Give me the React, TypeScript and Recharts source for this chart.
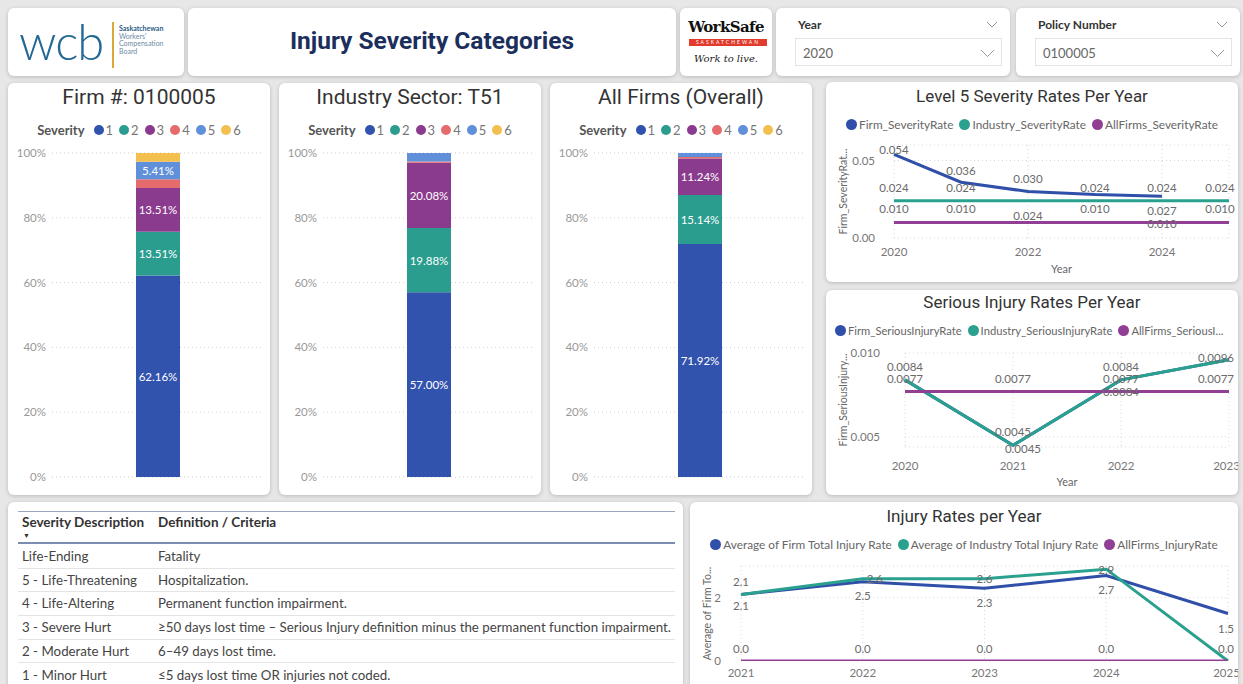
import React from "react";
import { BarChart, Bar, XAxis, YAxis, CartesianGrid, LabelList, LineChart, Line } from "recharts";

const FONT = "Lato, 'Open Sans', sans-serif";
const TITLE_FONT = "Roboto, 'DejaVu Sans', sans-serif";

// --- severity mix (stacked 100% bars) ---
const severityLevels = ["1", "2", "3", "4", "5", "6"];
const severityColors = ["#3152ad", "#2a9d8f", "#8b3b8e", "#e56b6d", "#5f90d9", "#f3c04f"];
const firmShares = [62.16, 13.51, 13.51, 2.7, 5.41, 2.71];
const industryShares = [57.0, 19.88, 20.08, 0.4, 2.64, 0];
const allFirmsShares = [71.92, 15.14, 11.24, 0.5, 1.2, 0];

// --- level 5 severity rates ---
const level5Years = [2020, 2021, 2022, 2023, 2024, 2025];
const firmSeverityRate = [0.054, 0.036, 0.03, 0.028, 0.027, null];
const industrySeverityRate = [0.024, 0.024, 0.024, 0.024, 0.024, 0.024];
const allFirmsSeverityRate = [0.01, 0.01, 0.01, 0.01, 0.01, 0.01];

// --- serious injury rates ---
const seriousYears = [2020, 2021, 2022, 2023];
const firmSeriousRate = [0.0084, 0.0045, 0.0084, 0.0096];
const industrySeriousRate = [0.0084, 0.0045, 0.0084, 0.0096];
const allFirmsSeriousRate = [0.0077, 0.0077, 0.0077, 0.0077];

// --- total injury rates ---
const injuryYears = [2021, 2022, 2023, 2024, 2025];
const firmInjuryRate = [2.1, 2.5, 2.3, 2.7, 1.5];
const industryInjuryRate = [2.1, 2.6, 2.6, 2.9, 0];
const allFirmsInjuryRate = [0, 0, 0, 0, 0];

// --- definitions table ---
const severityDescriptions = [
  "Life-Ending",
  "5 - Life-Threatening",
  "4 - Life-Altering",
  "3 - Severe Hurt",
  "2 - Moderate Hurt",
  "1 - Minor Hurt",
];
const severityCriteria = [
  "Fatality",
  "Hospitalization.",
  "Permanent function impairment.",
  "\u226550 days lost time \u2013 Serious Injury definition minus the permanent function impairment.",
  "6\u201349 days lost time.",
  "\u22645 days lost time OR injuries not coded.",
];

// label offsets from each point (null = label hidden, like power bi does on overlap)
const level5FirmDy = [-5, -12, -13, null, 14, null];
const level5IndustryDy = [-13, -13, 15, -13, -13, -13];
const level5AllDy = [-14, -14, null, -14, 1, -14];
const seriousFirmDy = [-13, -14, -13, -2];
const seriousIndustryDy = [null, 3, 12, null];
const seriousIndustryDx = [0, 10, 0, 0];
const seriousAllDy = [-13, -13, -13, -13];
const injuryFirmDy = [11, 14, 14, 14, 15];
const injuryIndustryDy = [-13, 0, 0, 0, -13];
const injuryIndustryDx = [0, 12, 0, 0, 0];
const injuryAllDy = [-13, -13, -13, -13, null];

const BLUE = "#2f4fa9";
const TEAL = "#2aa08f";
const PURPLE = "#913f95";

function Panel({ x, y, w, h, children }: any) {
  return (
    <div
      style={{
        position: "absolute", left: x, top: y, width: w, height: h,
        background: "#fff", borderRadius: 6, boxShadow: "0 1px 4px rgba(0,0,0,0.2)", overflow: "hidden",
      }}
    >
      {children}
    </div>
  );
}

const segmentLabel = (p: any) => {
  if (p.value == null || p.value < 5) return null;
  return (
    <text x={p.x + p.width / 2} y={p.y + p.height / 2} textAnchor="middle" dominantBaseline="central"
      fill="#fff" fontSize={11.5} fontFamily={FONT}>
      {Number(p.value).toFixed(2)}%
    </text>
  );
};

function SeverityPanel({ x, title, shares }: any) {
  const row: any = { name: title };
  severityLevels.forEach((s, i) => (row["s" + s] = shares[i]));
  return (
    <Panel x={x} y={83} w={262} h={412}>
      <div style={{ position: "absolute", top: 2, left: 0, width: "100%", textAlign: "center", fontFamily: TITLE_FONT, fontSize: 21, color: "#333" }}>
        {title}
      </div>
      <div style={{ position: "absolute", top: 39, left: 0, width: "100%", display: "flex", justifyContent: "center", alignItems: "center", gap: 6, fontFamily: FONT, fontSize: 13, color: "#777" }}>
        <span style={{ fontWeight: 700, color: "#555", marginRight: 3 }}>Severity</span>
        {severityLevels.map((s, i) => (
          <span key={s} style={{ display: "flex", alignItems: "center", gap: 2 }}>
            <span style={{ width: 10, height: 10, borderRadius: "50%", background: severityColors[i], display: "inline-block" }} />
            {s}
          </span>
        ))}
      </div>
      <div style={{ position: "absolute", left: 0, top: 0 }}>
        <BarChart width={262} height={412} data={[row]} margin={{ top: 70, right: 6, bottom: 18, left: 0 }}>
          <CartesianGrid vertical={false} stroke="#cfcfcf" strokeDasharray="1 3" />
          <XAxis dataKey="name" hide />
          <YAxis width={44} domain={[0, 100]} allowDataOverflow ticks={[0, 20, 40, 60, 80, 100]}
            tickFormatter={(v) => `${v}%`} axisLine={false} tickLine={false} tickMargin={0}
            tick={{ fill: "#999", fontSize: 11.5, fontFamily: FONT }} />
          {severityLevels.map((s, i) => (
            <Bar key={s} dataKey={"s" + s} stackId="sev" fill={severityColors[i]} barSize={44} isAnimationActive={false}>
              <LabelList dataKey={"s" + s} content={segmentLabel} />
            </Bar>
          ))}
        </BarChart>
      </div>
    </Panel>
  );
}

function pointLabel(dys: (number | null)[], fmt: (v: number) => string, maxX: number, dxs?: number[]) {
  return (p: any) => {
    const dy = dys[p.index];
    if (dy == null || p.value == null) return null;
    const x = Math.min(p.x + (dxs ? dxs[p.index] : 0), maxX);
    return (
      <text x={x} y={p.y + dy} textAnchor="middle" dominantBaseline="central" fontFamily={FONT} fontSize={11.5} fill="#6a6a6a">
        {fmt(p.value)}
      </text>
    );
  };
}

function Legend({ items, top, justify, padLeft, fontSize }: any) {
  return (
    <div style={{ position: "absolute", top, left: 0, width: "100%", display: "flex", justifyContent: justify, paddingLeft: padLeft || 0, boxSizing: "border-box", gap: 6, fontFamily: FONT, fontSize: fontSize || 11.8, color: "#666", whiteSpace: "nowrap" }}>
      {items.map((it: any) => (
        <span key={it.name} style={{ display: "flex", alignItems: "center", gap: 2 }}>
          <span style={{ width: 11, height: 11, borderRadius: "50%", background: it.color, display: "inline-block" }} />
          {it.name}
        </span>
      ))}
    </div>
  );
}

function RatePanel(props: any) {
  const {
    x, y, w, h, title, titleTop, legendTop, legendItems, legendJustify, legendPad, legendSize,
    years, series, xTicks, yDomain, yTicks, yFmt, labelFmt, margin, yAxisWidth, yTickMargin,
    yLabel, xLabel, xAxisHeight, xTickMargin, chartHeight, maxLabelX,
  } = props;
  const data = years.map((yr: number, i: number) => {
    const d: any = { year: yr };
    series.forEach((s: any, k: number) => (d["v" + k] = s.values[i]));
    return d;
  });
  return (
    <Panel x={x} y={y} w={w} h={h}>
      <div style={{ position: "absolute", top: titleTop, left: 0, width: "100%", textAlign: "center", fontFamily: TITLE_FONT, fontSize: 17, color: "#333" }}>
        {title}
      </div>
      <Legend items={legendItems} top={legendTop} justify={legendJustify} padLeft={legendPad} fontSize={legendSize} />
      <div style={{ position: "absolute", left: 0, top: 0 }}>
        <LineChart width={w} height={chartHeight} data={data} margin={margin}>
          <CartesianGrid stroke="#d6d6d6" strokeDasharray="1 3" />
          <XAxis dataKey="year" type="number" domain={[years[0], years[years.length - 1]]} ticks={xTicks}
            axisLine={false} tickLine={false} height={xAxisHeight} tickMargin={xTickMargin ?? 2}
            tick={{ fill: "#777", fontSize: 11.5, fontFamily: FONT }}
            label={xLabel ? { value: xLabel, position: "insideBottom", offset: 9, fill: "#666", fontSize: 11, fontFamily: FONT } : undefined} />
          <YAxis type="number" domain={yDomain} ticks={yTicks} allowDataOverflow tickFormatter={yFmt}
            axisLine={false} tickLine={false} width={yAxisWidth} tickMargin={yTickMargin}
            tick={{ fill: "#777", fontSize: 11.5, fontFamily: FONT }}
            label={{
              content: (lp: any) => {
                const vb = lp.viewBox || {};
                const cx = (vb.x || 0) + 9;
                const cy = (vb.y || 0) + (vb.height || 0) / 2;
                return (
                  <text x={cx} y={cy} transform={`rotate(-90, ${cx}, ${cy})`} textAnchor="middle" dominantBaseline="central"
                    fontSize={10.5} fill="#666" fontFamily={FONT}>
                    {yLabel}
                  </text>
                );
              },
            }} />
          {series.map((s: any, k: number) => (
            <Line key={s.name} dataKey={"v" + k} stroke={s.color} strokeWidth={3} dot={false} isAnimationActive={false} connectNulls={false}>
              <LabelList dataKey={"v" + k} content={pointLabel(s.dys, labelFmt, maxLabelX, s.dxs)} />
            </Line>
          ))}
        </LineChart>
      </div>
    </Panel>
  );
}

function Chevron({ x, y, w = 10, color = "#888" }: any) {
  return (
    <svg style={{ position: "absolute", left: x, top: y }} width={w + 2} height={w / 2 + 2}>
      <polyline points={`1,1 ${w / 2 + 1},${w / 2 + 1} ${w + 1},1`} fill="none" stroke={color} strokeWidth={1} />
    </svg>
  );
}

function Slicer({ x, w, label, value }: any) {
  return (
    <Panel x={x} y={8} w={w} h={68}>
      <div style={{ position: "absolute", left: 22, top: 9, fontFamily: FONT, fontWeight: 700, fontSize: 12, color: "#333" }}>{label}</div>
      <Chevron x={w - 24} y={13} w={10} color="#999" />
      <div style={{ position: "absolute", left: 19, top: 30, width: w - 27, height: 28, border: "1px solid #e3e3e3", boxSizing: "border-box" }}>
        <div style={{ position: "absolute", left: 7, top: 6, fontFamily: FONT, fontSize: 13, color: "#666" }}>{value}</div>
        <Chevron x={w - 50} y={10} w={13} color="#999" />
      </div>
    </Panel>
  );
}

export default function App() {
  const legendDot = (name: string, color: string) => ({ name, color });
  return (
    <div style={{ position: "relative", width: 1243, height: 684, background: "#e7e7e7", overflow: "hidden" }}>
      <style>{"body{margin:0;}"}</style>

      {/* header */}
      <Panel x={8} y={8} w={176} h={68}>
        <div style={{ position: "absolute", left: 11, top: 5, fontFamily: FONT, fontWeight: 300, fontSize: 49, letterSpacing: -1, color: "#236894", lineHeight: "56px" }}>wcb</div>
        <div style={{ position: "absolute", left: 104, top: 14, width: 2, height: 46, background: "#d8a933" }} />
        <div style={{ position: "absolute", left: 111, top: 17, fontFamily: FONT, fontSize: 7, lineHeight: "7.5px", color: "#6d8aa5" }}>
          <div style={{ fontWeight: 700, color: "#2c5b85" }}>Saskatchewan</div>
          <div>Workers'</div>
          <div>Compensation</div>
          <div>Board</div>
        </div>
      </Panel>
      <Panel x={188} y={8} w={488} h={68}>
        <div style={{ position: "absolute", left: 0, top: 18, width: "100%", textAlign: "center", fontFamily: TITLE_FONT, fontWeight: 700, fontSize: 24.5, color: "#1c2f5c" }}>
          Injury Severity Categories
        </div>
      </Panel>
      <Panel x={680} y={8} w={92} h={68}>
        <div style={{ position: "absolute", left: 0, top: 10, width: "100%", textAlign: "center", fontFamily: "'DejaVu Serif', serif", fontWeight: 700, fontSize: 15, letterSpacing: -0.6, color: "#111" }}>WorkSafe</div>
        <div style={{ position: "absolute", left: 9, top: 31, width: 78, height: 7, background: "#e23b2e", color: "#fff", fontSize: 5, lineHeight: "7px", textAlign: "center", letterSpacing: 2, fontFamily: FONT }}>SASKATCHEWAN</div>
        <div style={{ position: "absolute", left: 0, top: 45, width: "100%", textAlign: "center", fontFamily: "'DejaVu Serif', serif", fontStyle: "italic", fontSize: 10, color: "#222" }}>Work to live.</div>
      </Panel>
      <Slicer x={776} w={234} label="Year" value="2020" />
      <Slicer x={1016} w={224} label="Policy Number" value="0100005" />

      {/* severity mix */}
      <SeverityPanel x={8} title="Firm #: 0100005" shares={firmShares} />
      <SeverityPanel x={279} title="Industry Sector: T51" shares={industryShares} />
      <SeverityPanel x={550} title="All Firms (Overall)" shares={allFirmsShares} />

      {/* level 5 */}
      <RatePanel
        x={826} y={82} w={412} h={200} chartHeight={200}
        title="Level 5 Severity Rates Per Year" titleTop={4} legendTop={35}
        legendItems={[legendDot("Firm_SeverityRate", BLUE), legendDot("Industry_SeverityRate", TEAL), legendDot("AllFirms_SeverityRate", PURPLE)]}
        legendJustify="center"
        years={level5Years}
        series={[
          { name: "firm", color: BLUE, values: firmSeverityRate, dys: level5FirmDy },
          { name: "industry", color: TEAL, values: industrySeverityRate, dys: level5IndustryDy },
          { name: "all", color: PURPLE, values: allFirmsSeverityRate, dys: level5AllDy },
        ]}
        xTicks={[2020, 2022, 2024]} yDomain={[0, 0.06]} yTicks={[0, 0.05]} yFmt={(v: number) => v.toFixed(2)}
        labelFmt={(v: number) => v.toFixed(3)}
        margin={{ top: 63, right: 9, bottom: 0, left: 8 }} yAxisWidth={60} yTickMargin={13}
        yLabel="Firm_SeverityRat..." xLabel="Year" xAxisHeight={44} xTickMargin={4} maxLabelX={394}
      />

      {/* serious injury */}
      <RatePanel
        x={826} y={290} w={412} h={205} chartHeight={205}
        title="Serious Injury Rates Per Year" titleTop={2} legendTop={34}
        legendItems={[legendDot("Firm_SeriousInjuryRate", BLUE), legendDot("Industry_SeriousInjuryRate", TEAL), legendDot("AllFirms_SeriousI...", PURPLE)]}
        legendJustify="flex-start" legendPad={9} legendSize={11.2}
        years={seriousYears}
        series={[
          { name: "firm", color: BLUE, values: firmSeriousRate, dys: seriousFirmDy },
          { name: "industry", color: TEAL, values: industrySeriousRate, dys: seriousIndustryDy, dxs: seriousIndustryDx },
          { name: "all", color: PURPLE, values: allFirmsSeriousRate, dys: seriousAllDy },
        ]}
        xTicks={seriousYears} yDomain={[0.0044, 0.01]} yTicks={[0.005, 0.01]} yFmt={(v: number) => v.toFixed(3)}
        labelFmt={(v: number) => v.toFixed(4)}
        margin={{ top: 63, right: 9, bottom: 0, left: 8 }} yAxisWidth={71} yTickMargin={19}
        yLabel="Firm_SeriousInjury..." xLabel="Year" xAxisHeight={48} xTickMargin={9} maxLabelX={390}
      />

      {/* definitions table */}
      <Panel x={8} y={502} w={675} h={190}>
        <div style={{ position: "absolute", left: 10, top: 9, width: 657, height: 1, background: "#98a6bf" }} />
        <div style={{ position: "absolute", left: 14, top: 12, fontFamily: FONT, fontWeight: 700, fontSize: 13.5, color: "#333" }}>Severity Description</div>
        <div style={{ position: "absolute", left: 150, top: 12, fontFamily: FONT, fontWeight: 700, fontSize: 13.5, color: "#333" }}>Definition / Criteria</div>
        <div style={{ position: "absolute", left: 15, top: 29, fontSize: 7, color: "#333", fontFamily: FONT }}>{"\u25BC"}</div>
        <div style={{ position: "absolute", left: 10, top: 40, width: 657, height: 2, background: "#7b8db0" }} />
        {severityDescriptions.map((d, i) => (
          <div key={d} style={{ position: "absolute", left: 10, top: 43 + i * 23.7, width: 657, height: 23.7, borderBottom: i < 5 ? "1px solid #e4e4e4" : "none", boxSizing: "border-box", fontFamily: FONT, fontSize: 13.3, color: "#444" }}>
            <div style={{ position: "absolute", left: 4, top: 3 }}>{d}</div>
            <div style={{ position: "absolute", left: 140, top: 3, whiteSpace: "nowrap" }}>{severityCriteria[i]}</div>
          </div>
        ))}
      </Panel>

      {/* injury rates */}
      <RatePanel
        x={690} y={502} w={548} h={190} chartHeight={190}
        title="Injury Rates per Year" titleTop={4} legendTop={35}
        legendItems={[legendDot("Average of Firm Total Injury Rate", BLUE), legendDot("Average of Industry Total Injury Rate", TEAL), legendDot("AllFirms_InjuryRate", PURPLE)]}
        legendJustify="center"
        years={injuryYears}
        series={[
          { name: "firm", color: BLUE, values: firmInjuryRate, dys: injuryFirmDy },
          { name: "industry", color: TEAL, values: industryInjuryRate, dys: injuryIndustryDy, dxs: injuryIndustryDx },
          { name: "all", color: PURPLE, values: allFirmsInjuryRate, dys: injuryAllDy },
        ]}
        xTicks={injuryYears} yDomain={[0, 3]} yTicks={[0, 2]} yFmt={(v: number) => String(v)}
        labelFmt={(v: number) => v.toFixed(1)}
        margin={{ top: 64, right: 10, bottom: 0, left: 8 }} yAxisWidth={43} yTickMargin={14}
        yLabel="Average of Firm To..." xAxisHeight={31} maxLabelX={536}
      />
    </div>
  );
}
